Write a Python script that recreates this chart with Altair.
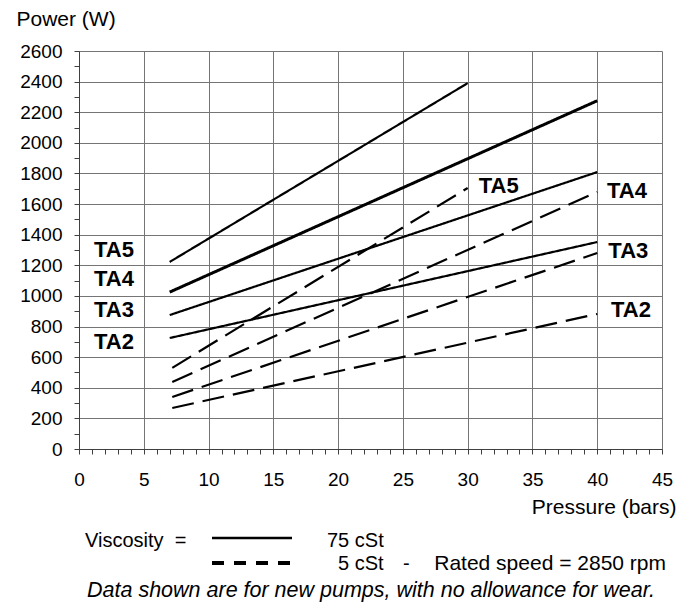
import altair as alt
import pandas as pd

# ---- data ----
series = ["TA5", "TA4", "TA3", "TA2"]
solid_start_p = [7, 7, 7, 7]
solid_start_w = [1222, 1025, 875, 725]
solid_end_p = [30, 40, 40, 40]
solid_end_w = [2390, 2275, 1809, 1352]

dashed_start_p = [7.2, 7.2, 7.2, 7.2]
dashed_start_w = [530, 438, 340, 268]
dashed_end_p = [30, 40, 40, 40]
dashed_end_w = [1705, 1679, 1280, 882]

label_text = ["TA5", "TA4", "TA3", "TA2", "TA5", "TA4", "TA3", "TA2"]
label_p = [2.7, 2.7, 2.7, 2.7, 32.4, 42.3, 42.4, 42.6]
label_w = [1297, 1110, 908, 702, 1715, 1688, 1293, 911]

x_ticks = list(range(0, 46))
y_ticks = list(range(0, 2700, 100))

visc_solid = "75 cSt"
visc_dashed = "5 cSt"

rows = []
for i, s in enumerate(series):
    for p, w in [(solid_start_p[i], solid_start_w[i]), (solid_end_p[i], solid_end_w[i])]:
        rows.append({"key": f"{s} {visc_solid}", "viscosity": visc_solid, "pressure": p, "power": w})
    for p, w in [(dashed_start_p[i], dashed_start_w[i]), (dashed_end_p[i], dashed_end_w[i])]:
        rows.append({"key": f"{s} {visc_dashed}", "viscosity": visc_dashed, "pressure": p, "power": w})
df = pd.DataFrame(rows)
labels_df = pd.DataFrame({"text": label_text, "pressure": label_p, "power": label_w})

FONT = "Liberation Sans, Arial, Helvetica, sans-serif"

x_axis = alt.Axis(
    values=x_ticks,
    title="Pressure (bars)",
    labelExpr="datum.value % 5 === 0 ? datum.label : ''",
    gridOpacity={"condition": {"test": "datum.value % 5 === 0", "value": 1}, "value": 0},
    tickSize=5,
    labelPadding=16,
    labelFlush=False,
    labelOverlap=False,
    titleX=597,
    titleY=64,
    titleAlign="right",
    titleBaseline="alphabetic",
)
y_axis = alt.Axis(
    values=y_ticks,
    title="Power (W)",
    format="d",
    labelExpr="datum.value % 200 === 0 ? datum.label : ''",
    gridOpacity={"condition": {"test": "datum.value % 200 === 0", "value": 1}, "value": 0},
    tickSize=5,
    labelPadding=12,
    labelOverlap=False,
    titleAngle=0,
    titleX=-63,
    titleY=-26,
    titleAlign="left",
    titleBaseline="alphabetic",
)

x_scale = alt.Scale(domain=[0, 45], nice=False, zero=True)
y_scale = alt.Scale(domain=[0, 2600], nice=False, zero=True)

lines = alt.Chart(df).mark_line(color="black", strokeCap="butt").encode(
    x=alt.X("pressure:Q", scale=x_scale, axis=x_axis),
    y=alt.Y("power:Q", scale=y_scale, axis=y_axis),
    detail="key:N",
    order="pressure:Q",
    strokeDash=alt.StrokeDash(
        "viscosity:N",
        scale=alt.Scale(domain=[visc_solid, visc_dashed], range=[[1, 0], [22, 9]]),
        legend=None,
    ),
    strokeWidth=alt.condition("datum.key === 'TA4 75 cSt'", alt.value(3), alt.value(2.2)),
)

labels = alt.Chart(labels_df).mark_text(
    font=FONT, fontSize=22, fontWeight="bold", color="black", align="center", baseline="middle"
).encode(
    x=alt.X("pressure:Q", scale=x_scale, axis=x_axis),
    y=alt.Y("power:Q", scale=y_scale, axis=y_axis),
    text="text:N",
)

one = pd.DataFrame({"v": [0]})

# ---- hand-drawn legend below the plot ----
leg_solid = alt.Chart(one).mark_rule(color="black", strokeWidth=2.5, strokeCap="butt").encode(
    x=alt.value(133), x2=alt.value(213), y=alt.value(487)
)
leg_dash = alt.Chart(one).mark_rule(color="black", strokeWidth=4, strokeDash=[12, 10], strokeCap="butt").encode(
    x=alt.value(133), x2=alt.value(213), y=alt.value(512)
)


def txt(s, x, y, align="left", style="normal", size=20):
    return alt.Chart(one).mark_text(
        text=s, font=FONT, fontSize=size, fontStyle=style, color="black", align=align, baseline="alphabetic"
    ).encode(x=alt.value(x), y=alt.value(y))


leg_texts = [
    txt("Viscosity\u00a0 =", 6, 496),
    txt("75 cSt", 248, 496),
    txt("5 cSt", 259, 519),
    txt("-", 324, 519),
    txt("Rated speed = 2850 rpm", 587, 519, align="right", size=21),
    txt("Data shown are for new pumps, with no allowance for wear.", 8, 546, style="italic", size=21.5),
]

chart = alt.layer(lines, labels, leg_solid, leg_dash, *leg_texts).properties(
    width=583,
    height=398,
    padding={"left": 71, "top": 43, "right": 18, "bottom": 153},
    autosize="none",
).configure_axis(
    labelFont=FONT,
    labelFontSize=19,
    labelColor="black",
    labelOverlap=False,
    titleFont=FONT,
    titleFontSize=21,
    titleFontWeight="normal",
    titleColor="black",
    gridColor="#757575",
    gridWidth=1,
    domainColor="#404040",
    tickColor="#404040",
).configure_view(stroke=None)

chart.save("out.html", embed_options={"renderer": "svg", "actions": False})
